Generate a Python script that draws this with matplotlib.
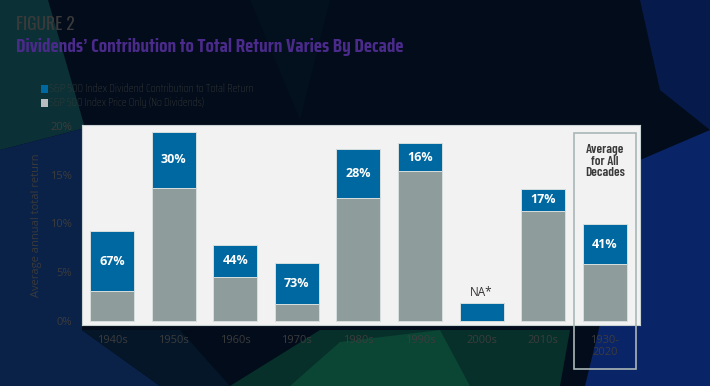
import matplotlib
matplotlib.use("Agg")
import matplotlib.pyplot as plt
from matplotlib.patches import Polygon, Rectangle
from matplotlib import font_manager as fm

decades = ["1940s", "1950s", "1960s", "1970s", "1980s", "1990s", "2000s", "2010s", "1930-\n2020"]
price_only = [3.0, 13.6, 4.5, 1.7, 12.6, 15.4, 0.0, 11.3, 5.8]
dividend_part = [6.2, 5.8, 3.3, 4.2, 5.0, 2.8, 1.8, 2.2, 4.1]
share_labels = ["67%", "30%", "44%", "73%", "28%", "16%", "NA*", "17%", "41%"]
yticks = [0, 5, 10, 15, 20]
legend_labels = ["S&P 500 Index Dividend Contribution to Total Return",
                 "S&P 500 Index Price Only (No Dividends)"]


def pick(cands, weight="normal"):
    for c in cands:
        try:
            fm.findfont(fm.FontProperties(family=c, weight=weight), fallback_to_default=False)
            return c
        except Exception:
            pass
    return "DejaVu Sans"


TITLE_FONT = pick(["Saira Condensed", "Barlow Condensed", "Roboto Condensed", "Roboto"], "bold")
COND_BOLD = pick(["Barlow Condensed", "Roboto Condensed", "Roboto"], "bold")
COND_LIGHT = pick(["Oswald", "Barlow Condensed", "Roboto Condensed", "Roboto"], "light")
COND_REG = pick(["Saira Condensed", "Barlow Condensed", "Roboto Condensed", "Open Sans"], "light")
BODY = pick(["Open Sans", "Noto Sans", "DejaVu Sans"])

W, H = 710, 386
fig = plt.figure(figsize=(W / 100, H / 100), dpi=100)
fig.patch.set_facecolor("#020c1a")


def px(pts):
    return [(x / W, 1 - y / H) for x, y in pts]


bg_polys = [
    ([(0, 0), (48, 0), (85, 128), (0, 150)], "#0b3136"),
    ([(0, 150), (85, 128), (82, 330), (160, 386), (0, 386)], "#0a2148"),
    ([(82, 330), (160, 386), (230, 386), (180, 330)], "#041628"),
    ([(230, 386), (320, 330), (570, 330), (560, 386)], "#07302a"),
    ([(290, 386), (340, 342), (440, 330), (470, 386)], "#0b4534"),
    ([(585, 386), (640, 160), (710, 130), (710, 386)], "#0a2468"),
    ([(640, 0), (710, 0), (710, 130), (660, 90)], "#071a4c"),
    ([(250, 0), (330, 0), (300, 120)], "#03111f"),
]
for pts, c in bg_polys:
    fig.patches.append(Polygon(px(pts), closed=True, transform=fig.transFigure,
                               facecolor=c, edgecolor="none", zorder=-10))

ax = fig.add_axes([82 / W, (H - 325) / H, (640 - 82) / W, (325 - 125) / H])
ax.set_facecolor("#f2f2f2")
for s in ax.spines.values():
    s.set_color("#c9d2d2")
    s.set_linewidth(0.8)

x = list(range(len(decades)))
blue = "#0068a1"
grey = "#8e9c9c"
ax.bar(x, price_only, width=0.715, color=grey, edgecolor="#d6dede", linewidth=0.7, zorder=3)
ax.bar(x, dividend_part, bottom=price_only, width=0.715, color=blue, edgecolor="#d6dede",
       linewidth=0.7, zorder=3)

for i, lab in enumerate(share_labels):
    if lab.startswith("NA"):
        ax.text(i, price_only[i] + dividend_part[i] + 0.4, lab, ha="center", va="bottom",
                fontsize=8.5, color="#333333", family=BODY, zorder=5)
    else:
        ax.text(i, price_only[i] + dividend_part[i] / 2, lab, ha="center", va="center",
                fontsize=9, color="white", fontweight="bold", family=BODY, zorder=5)

avg_txt = ax.text(x[-1], 16.3, "Average\nfor All\nDecades", ha="center", va="center",
                  fontsize=9.5, color="#3a3a3a", fontweight="semibold", family=COND_BOLD,
                  linespacing=0.95, zorder=5)
ax.add_patch(Rectangle((x[-1] - 0.5, -5.0), 1.0, 24.25, fill=False, edgecolor="#a9b6b6",
                       linewidth=1.2, clip_on=False, zorder=6))

ax.set_xlim(-0.487, 8.57)
ax.set_ylim(-0.46, 20.09)
ax.set_xticks(x)
ax.set_xticklabels(decades, fontsize=8, color="#3c3c3c", family=BODY, linespacing=1.2)
ax.set_yticks(yticks)
ax.set_yticklabels([f"{v}%" for v in yticks], fontsize=8, color="#3c3c3c", family=BODY)
ax.tick_params(length=0, pad=7)
ax.set_ylabel("Average annual total return", fontsize=8, color="#3a3a3a", family=BODY,
              labelpad=6)

fig_txt = fig.text(16 / W, 1 - 24 / H, "FIGURE 2", fontsize=12.5, color="#3a3a3a",
                   family=COND_LIGHT, va="center", ha="left", fontweight="light")
title_txt = fig.text(16 / W, 1 - 47 / H,
                     "Dividends\u2019 Contribution to Total Return Varies By Decade",
                     fontsize=15, color="#4a2a8a", family=TITLE_FONT, fontweight="bold",
                     va="center", ha="left")

leg_txts = []
for yy, c, t in [(89, blue, legend_labels[0]), (103, "#b8bcbc", legend_labels[1])]:
    fig.patches.append(Rectangle((41 / W, 1 - (yy + 4) / H), 7 / W, 8 / H,
                                 transform=fig.transFigure, facecolor=c, edgecolor="none",
                                 zorder=2))
    leg_txts.append(fig.text(49 / W, 1 - yy / H, t, fontsize=8, color="#3a3a3a",
                             family=COND_REG, fontweight="light", va="center", ha="left"))

# fit text widths to the reference layout
renderer = fig.canvas.get_renderer()
for t, target in [(title_txt, 388), (fig_txt, 59), (leg_txts[0], 203), (leg_txts[1], 155),
                  (avg_txt, 40)]:
    w = t.get_window_extent(renderer).width
    if w > 0:
        t.set_fontsize(t.get_fontsize() * target / w)

fig.savefig("out.png", dpi=100, facecolor=fig.get_facecolor())
